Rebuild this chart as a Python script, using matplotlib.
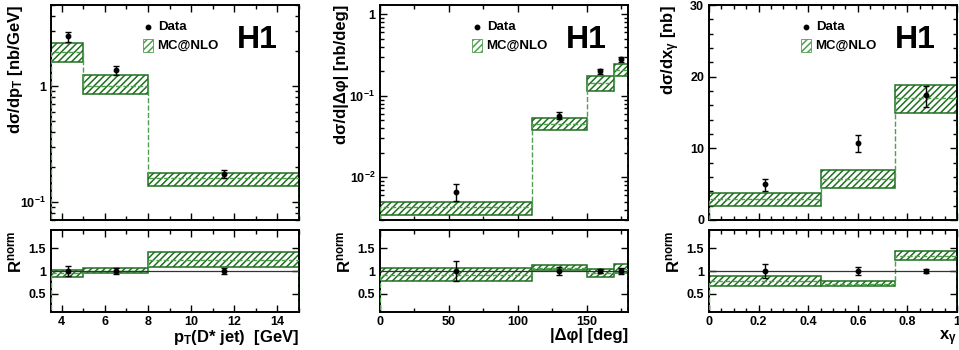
import numpy as np
import matplotlib
matplotlib.use("Agg")
import matplotlib.pyplot as plt
from matplotlib.ticker import (FixedLocator, FuncFormatter, LogLocator,
                               MultipleLocator, NullFormatter)
from matplotlib.patches import Rectangle

# --------------------------
# data
# --------------------------

# p_T(D* jet)
pt_edges = [3.5, 5, 8, 15]
pt_x = [4.3, 6.5, 11.5]
pt_data = [2.7, 1.37, 0.174]
pt_data_lo = [2.4, 1.25, 0.160]
pt_data_hi = [2.9, 1.50, 0.190]
pt_mc = [1.96, 1.00, 0.161]
pt_mc_lo = [1.61, 0.85, 0.137]
pt_mc_hi = [2.35, 1.24, 0.178]
pt_r_err = [0.10, 0.06, 0.07]
pt_rmc = [0.95, 1.00, 1.25]
pt_rmc_lo = [0.87, 0.95, 1.09]
pt_rmc_hi = [1.02, 1.06, 1.41]

# |delta phi|
dphi_edges = [0, 110, 150, 170, 180]
dphi_x = [55, 130, 160, 175]
dphi_data = [0.0067, 0.057, 0.200, 0.279]
dphi_data_lo = [0.0051, 0.052, 0.186, 0.260]
dphi_data_hi = [0.0083, 0.063, 0.215, 0.300]
dphi_mc = [0.0043, 0.045, 0.142, 0.207]
dphi_mc_lo = [0.00346, 0.038, 0.114, 0.176]
dphi_mc_hi = [0.00503, 0.0529, 0.174, 0.244]
dphi_r_err = [0.23, 0.08, 0.05, 0.06]
dphi_rmc = [0.92, 1.07, 0.95, 1.05]
dphi_rmc_lo = [0.77, 1.02, 0.86, 0.96]
dphi_rmc_hi = [1.06, 1.13, 1.04, 1.15]

# x_gamma
xg_edges = [0, 0.45, 0.75, 1.0]
xg_x = [0.225, 0.6, 0.875]
xg_data = [5.0, 10.7, 17.4]
xg_data_lo = [4.1, 9.55, 15.8]
xg_data_hi = [5.7, 11.9, 18.7]
xg_mc = [2.9, 5.7, 17.0]
xg_mc_lo = [2.0, 4.5, 14.9]
xg_mc_hi = [3.7, 7.0, 18.8]
xg_r_err = [0.15, 0.08, 0.04]
xg_rmc = [0.77, 0.72, 1.33]
xg_rmc_lo = [0.66, 0.66, 1.24]
xg_rmc_hi = [0.89, 0.79, 1.43]

# --------------------------
# style
# --------------------------
GREEN = '#1f6f1f'
LGREEN = '#4f9f4f'

plt.rcParams['font.family'] = ['Liberation Sans', 'DejaVu Sans']
plt.rcParams['font.weight'] = 'bold'
plt.rcParams['mathtext.fontset'] = 'custom'
plt.rcParams['mathtext.rm'] = 'Liberation Sans:bold'
plt.rcParams['mathtext.it'] = 'Liberation Sans:bold'
plt.rcParams['mathtext.bf'] = 'Liberation Sans:bold'
plt.rcParams['mathtext.sf'] = 'Liberation Sans:bold'
plt.rcParams['mathtext.default'] = 'rm'
plt.rcParams['hatch.linewidth'] = 1.1
plt.rcParams['hatch.color'] = GREEN
plt.rcParams['axes.linewidth'] = 1.4


def style_ticks(ax):
    ax.tick_params(which='both', direction='in', top=True, right=True,
                   labelsize=9, width=1)
    ax.tick_params(which='major', length=5)
    ax.tick_params(which='minor', length=3)
    for lab in ax.get_xticklabels() + ax.get_yticklabels():
        lab.set_fontweight('bold')


def mc_band(ax, edges, mid, lo, hi):
    edges = np.asarray(edges)
    lo = np.asarray(lo)
    hi = np.asarray(hi)
    ax.bar(edges[:-1], hi - lo, width=np.diff(edges), bottom=lo, align='edge',
           facecolor='white', edgecolor=GREEN, hatch='/////', linewidth=1.1,
           zorder=2)
    ax.stairs(mid, edges, color=LGREEN, linestyle='--', linewidth=1.0, zorder=3)


def log_fmt(v, pos):
    if abs(v - 1) < 1e-9:
        return '1'
    return r'$10^{%d}$' % int(round(np.log10(v)))


def legend_and_logo(ax):
    ax.plot([0.39], [0.90], 'o', color='k', ms=3.2, transform=ax.transAxes)
    ax.text(0.43, 0.90, 'Data', transform=ax.transAxes, fontsize=9.5,
            fontweight='bold', va='center', ha='left')
    ax.add_patch(Rectangle((0.371, 0.78), 0.04, 0.06, transform=ax.transAxes,
                           facecolor='white', edgecolor=LGREEN, hatch='/////',
                           linewidth=0.6))
    ax.text(0.427, 0.81, 'MC@NLO', transform=ax.transAxes, fontsize=9.5,
            fontweight='bold', va='center', ha='left')
    ax.text(0.83, 0.80, 'H1', transform=ax.transAxes, fontsize=23,
            fontweight='bold', va='baseline', ha='center')


panels = [
    dict(edges=pt_edges, x=pt_x, data=pt_data, lo=pt_data_lo, hi=pt_data_hi,
         mc=pt_mc, mclo=pt_mc_lo, mchi=pt_mc_hi, rerr=pt_r_err, rmc=pt_rmc,
         rlo=pt_rmc_lo, rhi=pt_rmc_hi, log=True, ylim=(0.07, 5),
         ymaj=[0.1, 1], xmaj=2, xmin=1, labx=-0.105,
         ylabel='dσ/dp$_{T}$ [nb/GeV]', xlabel='p$_{T}$(D* jet)  [GeV]'),
    dict(edges=dphi_edges, x=dphi_x, data=dphi_data, lo=dphi_data_lo,
         hi=dphi_data_hi, mc=dphi_mc, mclo=dphi_mc_lo, mchi=dphi_mc_hi,
         rerr=dphi_r_err, rmc=dphi_rmc, rlo=dphi_rmc_lo, rhi=dphi_rmc_hi,
         log=True, ylim=(0.003, 1.3), ymaj=[0.01, 0.1, 1], xmaj=50, xmin=25,
         labx=-0.125,
         ylabel='dσ/d|Δφ| [nb/deg]', xlabel='|Δφ| [deg]'),
    dict(edges=xg_edges, x=xg_x, data=xg_data, lo=xg_data_lo, hi=xg_data_hi,
         mc=xg_mc, mclo=xg_mc_lo, mchi=xg_mc_hi, rerr=xg_r_err, rmc=xg_rmc,
         rlo=xg_rmc_lo, rhi=xg_rmc_hi, log=False, ylim=(0, 30),
         ymaj=None, xmaj=0.2, xmin=0.05, labx=-0.11,
         ylabel='dσ/dx$_{γ}$ [nb]', xlabel='x$_{γ}$'),
]

fig = plt.figure(figsize=(9.59, 3.5), dpi=100)
lefts = [51, 380, 709]
W, H = 959.0, 350.0

for left, p in zip(lefts, panels):
    ax = fig.add_axes([left / W, (H - 220) / H, 248 / W, 215 / H])
    axr = fig.add_axes([left / W, (H - 312) / H, 248 / W, 82 / H])
    edges = p['edges']

    # --- upper panel
    mc_band(ax, edges, p['mc'], p['mclo'], p['mchi'])
    data = np.asarray(p['data'])
    yerr = [data - np.asarray(p['lo']), np.asarray(p['hi']) - data]
    ax.errorbar(p['x'], data, yerr=yerr, fmt='o', color='k', ms=3.2,
                elinewidth=1, capsize=2, capthick=1, zorder=5)
    ax.set_xlim(edges[0], edges[-1])
    if p['log']:
        ax.set_yscale('log')
        ax.yaxis.set_major_locator(FixedLocator(p['ymaj']))
        ax.yaxis.set_major_formatter(FuncFormatter(log_fmt))
        ax.yaxis.set_minor_locator(LogLocator(subs=np.arange(2, 10)))
        ax.yaxis.set_minor_formatter(NullFormatter())
    else:
        ax.yaxis.set_major_locator(MultipleLocator(10))
        ax.yaxis.set_minor_locator(MultipleLocator(2))
    ax.set_ylim(*p['ylim'])
    ax.xaxis.set_major_locator(MultipleLocator(p['xmaj']))
    ax.xaxis.set_minor_locator(MultipleLocator(p['xmin']))
    ax.set_xticklabels([])
    style_ticks(ax)
    ax.set_ylabel(p['ylabel'], fontsize=12, fontweight='bold', loc='top')
    ax.yaxis.set_label_coords(p['labx'], 1.0)
    legend_and_logo(ax)

    # --- ratio panel
    mc_band(axr, edges, p['rmc'], p['rlo'], p['rhi'])
    axr.axhline(1, color='#333333', lw=0.9, zorder=4)
    axr.errorbar(p['x'], np.ones(len(p['x'])), yerr=p['rerr'], fmt='o',
                 color='k', ms=3.2, elinewidth=1, capsize=2, capthick=1,
                 zorder=5)
    axr.set_xlim(edges[0], edges[-1])
    axr.set_ylim(0.1, 1.9)
    axr.yaxis.set_major_locator(FixedLocator([0.5, 1, 1.5]))
    axr.yaxis.set_major_formatter(FuncFormatter(lambda v, pos: '%g' % v))
    axr.xaxis.set_major_locator(MultipleLocator(p['xmaj']))
    axr.xaxis.set_minor_locator(MultipleLocator(p['xmin']))
    axr.xaxis.set_major_formatter(FuncFormatter(lambda v, pos: '%g' % v))
    style_ticks(axr)
    axr.tick_params(axis='x', pad=3)
    axr.set_ylabel('R$^{norm}$', fontsize=12, fontweight='bold', loc='top')
    axr.yaxis.set_label_coords(-0.105, 1.0)
    axr.set_xlabel(p['xlabel'], fontsize=12, fontweight='bold', loc='right')
    axr.xaxis.set_label_coords(1.0, -0.20)

fig.savefig('out.png', dpi=100)
